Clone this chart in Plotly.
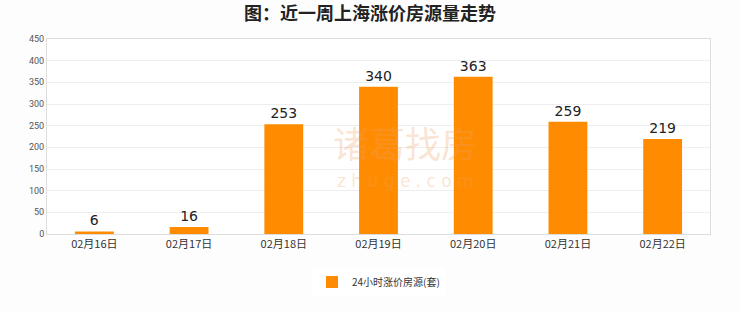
import plotly.graph_objects as go

categories = ["02月16日", "02月17日", "02月18日", "02月19日", "02月20日", "02月21日", "02月22日"]
values = [6, 16, 253, 340, 363, 259, 219]
series_name = "24小时涨价房源(套)"
title = "图：近一周上海涨价房源量走势"
y_ticks = [0, 50, 100, 150, 200, 250, 300, 350, 400, 450]

fig = go.Figure()
fig.add_trace(go.Bar(
    x=categories, y=values, name=series_name,
    marker=dict(color="#FF8C00", line=dict(width=0)),
    width=0.41,
    text=[str(v) for v in values], textposition="outside",
    textfont=dict(size=14, color="#222222", family="DejaVu Sans"),
    cliponaxis=False,
))

fig.add_annotation(
    x=0.54, y=0.47, xref="paper", yref="paper", yanchor="middle",
    text="诸葛找房", showarrow=False,
    font=dict(size=36, color="rgba(240,160,100,0.3)", family="Noto Sans CJK SC"),
)
fig.add_annotation(
    x=0.54, y=0.27, xref="paper", yref="paper", yanchor="middle",
    text="z h u g e . c o m", showarrow=False,
    font=dict(size=17, color="rgba(240,160,100,0.3)", family="DejaVu Sans"),
)

fig.update_layout(
    width=740, height=312,
    margin=dict(l=47, r=30, t=39, b=78),
    paper_bgcolor="#fdfdfd", plot_bgcolor="#ffffff",
    title=dict(text="<b>" + title + "</b>", x=0.5, xanchor="center", y=0.955, yanchor="middle",
               font=dict(size=18, color="#222222", family="Noto Sans CJK SC")),
    showlegend=True,
    legend=dict(orientation="h", x=0.5, xanchor="center", yref="container", y=0.096, yanchor="middle",
                bgcolor="#ffffff", font=dict(size=10, color="#333333", family="Noto Sans CJK SC")),
    xaxis=dict(
        showline=True, linecolor="#dddddd", linewidth=1, mirror=True,
        tickfont=dict(size=11, color="#333333", family="Noto Sans CJK SC"),
        ticks="", showgrid=False,
    ),
    yaxis=dict(
        range=[0, 450], tickvals=y_ticks, showgrid=True, gridcolor="#eeeeee",
        showline=True, linecolor="#dddddd", linewidth=1, mirror=True,
        tickfont=dict(size=9, color="#555555", family="Roboto"),
        zeroline=False, ticks="",
    ),
)

fig.write_html("out.html")
